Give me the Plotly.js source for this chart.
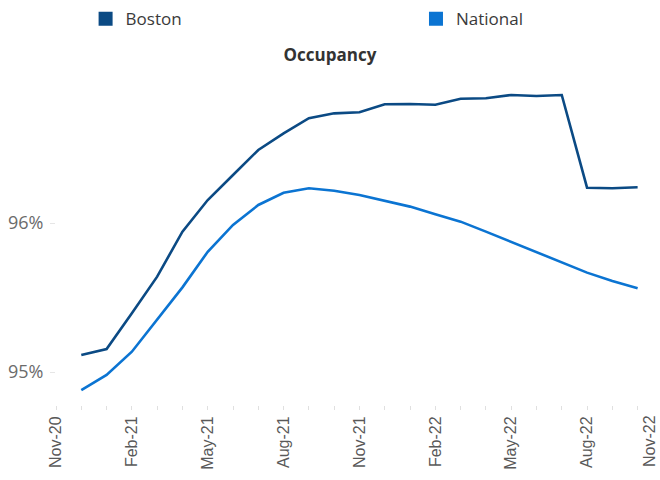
<!DOCTYPE html>
<html><head><meta charset="utf-8">
<script src="https://cdn.plot.ly/plotly-3.0.1.min.js"></script>
<style>html,body{margin:0;padding:0;background:#fff}#chart{width:660px;height:480px}</style>
</head><body><div id="chart"></div>
<script>
const months = ['Nov-20','Dec-20','Jan-21','Feb-21','Mar-21','Apr-21','May-21','Jun-21','Jul-21','Aug-21','Sep-21','Oct-21','Nov-21','Dec-21','Jan-22','Feb-22','Mar-22','Apr-22','May-22','Jun-22','Jul-22','Aug-22','Sep-22','Oct-22','Nov-22'];
const dataMonths = ['Dec-20','Jan-21','Feb-21','Mar-21','Apr-21','May-21','Jun-21','Jul-21','Aug-21','Sep-21','Oct-21','Nov-21','Dec-21','Jan-22','Feb-22','Mar-22','Apr-22','May-22','Jun-22','Jul-22','Aug-22','Sep-22','Oct-22'];
const boston = [95.114,95.154,95.394,95.640,95.942,96.154,96.322,96.490,96.602,96.703,96.736,96.743,96.797,96.799,96.794,96.834,96.837,96.859,96.852,96.859,96.237,96.233,96.240];
const national = [94.879,94.980,95.136,95.349,95.568,95.807,95.987,96.121,96.203,96.233,96.217,96.188,96.150,96.110,96.058,96.009,95.942,95.874,95.801,95.734,95.667,95.611,95.562];
const tickLabels = ['Nov-20','Feb-21','May-21','Aug-21','Nov-21','Feb-22','May-22','Aug-22','Nov-22'];
const yTicks = [95, 96];
const yTickText = ['95%', '96%'];

const xIdx = dataMonths.map(m => months.indexOf(m));
const shownTicks = tickLabels.slice(0, -1);
const lastTick = tickLabels[tickLabels.length - 1];

const cBoston = '#0b4a84';
const cNational = '#0b74d2';

const traces = [
  {x: xIdx, y: boston, type: 'scatter', mode: 'lines', line: {color: cBoston, width: 2.6}, showlegend: false, hoverinfo: 'skip'},
  {x: xIdx, y: national, type: 'scatter', mode: 'lines', line: {color: cNational, width: 2.6}, showlegend: false, hoverinfo: 'skip'},
  {x: [null], y: [null], type: 'scatter', mode: 'markers', name: 'Boston', legend: 'legend', marker: {symbol: 'square', size: 14, color: cBoston}},
  {x: [null], y: [null], type: 'scatter', mode: 'markers', name: 'National', legend: 'legend2', marker: {symbol: 'square', size: 14, color: cNational}}
];

const legendFont = {size: 17, color: '#3a3a3a', family: 'Open Sans, sans-serif'};
const layout = {
  width: 660, height: 480,
  margin: {l: 56, r: 0, t: 74, b: 75, pad: 0},
  paper_bgcolor: '#fff', plot_bgcolor: '#fff',
  font: {family: 'Open Sans, sans-serif', color: '#595959'},
  title: {text: '<b>Occupancy</b>', x: 0.5, xref: 'container', xanchor: 'center', y: 1 - 55/480, yref: 'container', yanchor: 'middle', font: {size: 17, color: '#333333', family: 'Open Sans, sans-serif'}},
  showlegend: true,
  legend: {orientation: 'h', x: 0.049, xanchor: 'left', y: 1.22, yanchor: 'top', font: legendFont, itemclick: false, bgcolor: 'rgba(0,0,0,0)'},
  legend2: {orientation: 'h', x: 0.596, xanchor: 'left', y: 1.22, yanchor: 'top', font: legendFont, itemclick: false, bgcolor: 'rgba(0,0,0,0)'},
  xaxis: {
    range: [0, 23.885], showgrid: false, zeroline: false, showline: false,
    tickvals: shownTicks.map(l => months.indexOf(l)), ticktext: shownTicks,
    ticks: 'outside', ticklen: 4, tickcolor: '#e0e0e0', tickwidth: 1,
    tickangle: -90, tickfont: {family: 'Liberation Sans, Arial, sans-serif', size: 16, color: '#595959'},
    minor: {dtick: 1, tick0: 0, ticks: 'outside', ticklen: 4, tickcolor: '#e0e0e0', showgrid: false}
  },
  yaxis: {
    range: [94.7785, 97.0], showgrid: false, zeroline: false, showline: false,
    tickvals: yTicks, ticktext: yTickText,
    ticks: 'outside', ticklen: 5, tickcolor: '#e6e6e6', ticklabelstandoff: 3,
    tickfont: {family: 'Open Sans, sans-serif', size: 18, color: '#6b6b6b'}
  },
  annotations: [
    {text: lastTick, xref: 'paper', x: 1, xanchor: 'center', xshift: -11, yref: 'paper', y: 0, yanchor: 'top', yshift: -8, textangle: -90, showarrow: false, font: {family: 'Liberation Sans, Arial, sans-serif', size: 16, color: '#595959'}}
  ]
};
Plotly.newPlot('chart', traces, layout, {displayModeBar: false, staticPlot: true});
</script>
</body></html>
